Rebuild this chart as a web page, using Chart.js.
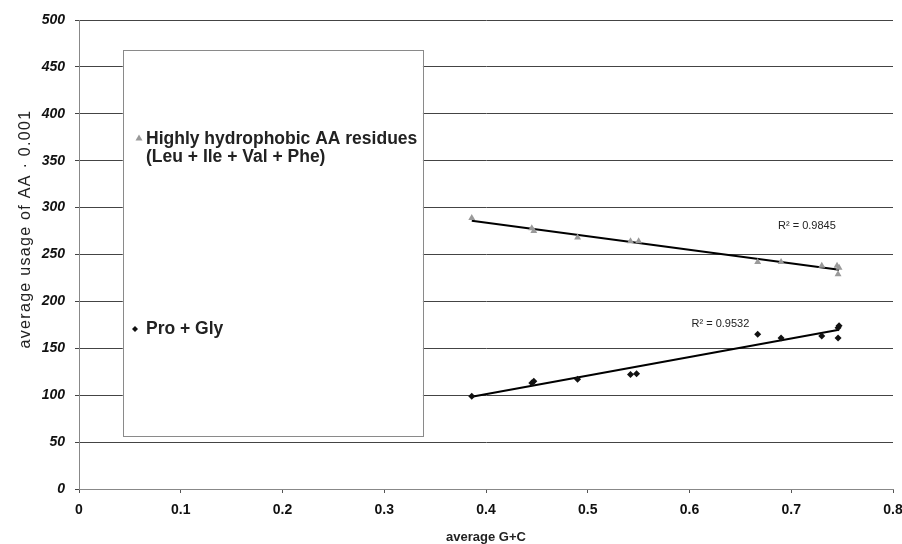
<!DOCTYPE html>
<html>
<head>
<meta charset="utf-8">
<script src="https://cdn.jsdelivr.net/npm/chart.js@4/dist/chart.umd.min.js"></script>
<style>
  html, body { margin: 0; padding: 0; background: #fff; }
  #wrap { width: 902px; height: 544px; position: relative; }
</style>
</head>
<body>
<div id="wrap"><canvas id="chart" width="902" height="544"></canvas></div>
<script>
// Amino acid usage vs. G+C content, two groups with linear trendlines

const hydroLabel = ['Highly hydrophobic AA residues', '(Leu + Ile + Val + Phe)'];
const hydroGC = [0.386, 0.445, 0.447, 0.490, 0.542, 0.550, 0.667, 0.690, 0.730, 0.745, 0.747, 0.746];
const hydroUsage = [289, 278, 275, 268, 264, 264, 242, 242, 238, 238, 236, 229];

const proGlyLabel = 'Pro + Gly';
const proGlyGC = [0.386, 0.445, 0.447, 0.490, 0.542, 0.548, 0.667, 0.690, 0.730, 0.746, 0.747, 0.746];
const proGlyUsage = [99, 113, 115, 117, 122, 123, 165, 161, 163, 172, 174, 161];

const r2Labels = ['R\u00b2 = 0.9845', 'R\u00b2 = 0.9532'];
const xTitle = 'average G+C';
const yTitle = 'average usage of AA \u00b7 0.001';

const FONT = '"Liberation Sans", Arial, sans-serif';

function toPoints(xs, ys) {
  return xs.map((x, i) => ({ x: x, y: ys[i] }));
}

// least squares fit, drawn between min and max x like a spreadsheet trendline
function trendline(xs, ys) {
  const n = xs.length;
  const mx = xs.reduce((a, b) => a + b, 0) / n;
  const my = ys.reduce((a, b) => a + b, 0) / n;
  let sxy = 0, sxx = 0;
  xs.forEach((x, i) => { sxy += (x - mx) * (ys[i] - my); sxx += (x - mx) * (x - mx); });
  const slope = sxy / sxx;
  const lo = Math.min(...xs), hi = Math.max(...xs);
  return [
    { x: lo, y: my + slope * (lo - mx) },
    { x: hi, y: my + slope * (hi - mx) }
  ];
}

// legend box, R² labels and axis titles
const decorPlugin = {
  id: 'decor',
  beforeDatasetsDraw(chart) {
    const { ctx, scales: { x, y } } = chart;
    const left = x.getPixelForValue(0.043), right = x.getPixelForValue(0.338);
    const top = y.getPixelForValue(468), bottom = y.getPixelForValue(57);
    ctx.save();
    ctx.fillStyle = '#fff';
    ctx.strokeStyle = '#8a8a8a';
    ctx.lineWidth = 1;
    ctx.fillRect(left, top, right - left, bottom - top);
    ctx.strokeRect(Math.round(left) + 0.5, Math.round(top) + 0.5, Math.round(right - left), Math.round(bottom - top));

    // legend entries
    ctx.fillStyle = '#999';
    ctx.beginPath();
    ctx.moveTo(139, 134.5); ctx.lineTo(142.5, 140.5); ctx.lineTo(135.5, 140.5); ctx.closePath();
    ctx.fill();
    ctx.fillStyle = '#111';
    ctx.beginPath();
    ctx.moveTo(135, 326); ctx.lineTo(138, 329); ctx.lineTo(135, 332); ctx.lineTo(132, 329); ctx.closePath();
    ctx.fill();

    ctx.fillStyle = '#222';
    ctx.font = 'bold 17.5px ' + FONT;
    ctx.textAlign = 'left';
    ctx.textBaseline = 'alphabetic';
    ctx.fillText(hydroLabel[0], 146, 143.5);
    ctx.fillText(hydroLabel[1], 146, 161.5);
    ctx.fillText(proGlyLabel, 146, 334);

    // y axis title
    ctx.font = '16px ' + FONT;
    ctx.letterSpacing = '1.3px';
    ctx.textAlign = 'center';
    ctx.textBaseline = 'middle';
    ctx.translate(26, 229);
    ctx.rotate(-Math.PI / 2);
    ctx.fillText(yTitle, 0, 0);
    ctx.restore();

    ctx.save();
    ctx.fillStyle = '#222';
    ctx.font = 'bold 13px ' + FONT;
    ctx.textAlign = 'center';
    ctx.textBaseline = 'middle';
    ctx.fillText(xTitle, (x.left + x.right) / 2, 537);
    ctx.restore();
  },
  afterDatasetsDraw(chart) {
    const { ctx, scales: { x, y } } = chart;
    ctx.save();
    ctx.fillStyle = '#222';
    ctx.font = '11px ' + FONT;
    ctx.textAlign = 'left';
    ctx.textBaseline = 'middle';
    ctx.fillText(r2Labels[0], x.getPixelForValue(0.687), y.getPixelForValue(280));
    ctx.fillText(r2Labels[1], x.getPixelForValue(0.602), y.getPixelForValue(176));
    ctx.restore();
  }
};

new Chart(document.getElementById('chart'), {
  type: 'scatter',
  data: {
    datasets: [
      {
        label: hydroLabel.join(' '),
        data: toPoints(hydroGC, hydroUsage),
        pointStyle: 'triangle',
        pointRadius: 4,
        backgroundColor: '#9a9a9a',
        borderColor: '#9a9a9a',
        borderWidth: 0
      },
      {
        label: proGlyLabel,
        data: toPoints(proGlyGC, proGlyUsage),
        pointStyle: 'rectRot',
        pointRadius: 3.5,
        backgroundColor: '#111',
        borderColor: '#111',
        borderWidth: 0
      },
      {
        type: 'line',
        label: 'hydro trend',
        data: trendline(hydroGC, hydroUsage),
        borderColor: '#000',
        borderWidth: 2,
        pointRadius: 0,
        fill: false
      },
      {
        type: 'line',
        label: 'pro trend',
        data: trendline(proGlyGC, proGlyUsage),
        borderColor: '#000',
        borderWidth: 2,
        pointRadius: 0,
        fill: false
      }
    ]
  },
  options: {
    responsive: false,
    animation: false,
    layout: { padding: { top: 20, right: 9, left: 0, bottom: 0 } },
    plugins: {
      legend: { display: false },
      tooltip: { enabled: false }
    },
    scales: {
      x: {
        type: 'linear',
        min: 0,
        max: 0.8,
        ticks: {
          stepSize: 0.1,
          padding: 9,
          color: '#111',
          font: { family: FONT, size: 14, weight: 'bold' },
          callback: v => String(+v.toFixed(1))
        },
        grid: { drawOnChartArea: false, drawTicks: true, tickLength: 4, color: '#555' },
        border: { color: '#888', width: 1 },
        afterFit(s) { s.height = 55; s.paddingLeft = 0; s.paddingRight = 0; }
      },
      y: {
        min: 0,
        max: 500,
        ticks: {
          stepSize: 50,
          padding: 10,
          color: '#111',
          font: { family: FONT, size: 14, weight: 'bold', style: 'italic' }
        },
        grid: { color: '#444', tickLength: 4 },
        border: { color: '#888', width: 1 },
        afterFit(s) { s.width = 79; s.paddingTop = 0; s.paddingBottom = 0; }
      }
    }
  },
  plugins: [decorPlugin]
});
</script>
</body>
</html>
